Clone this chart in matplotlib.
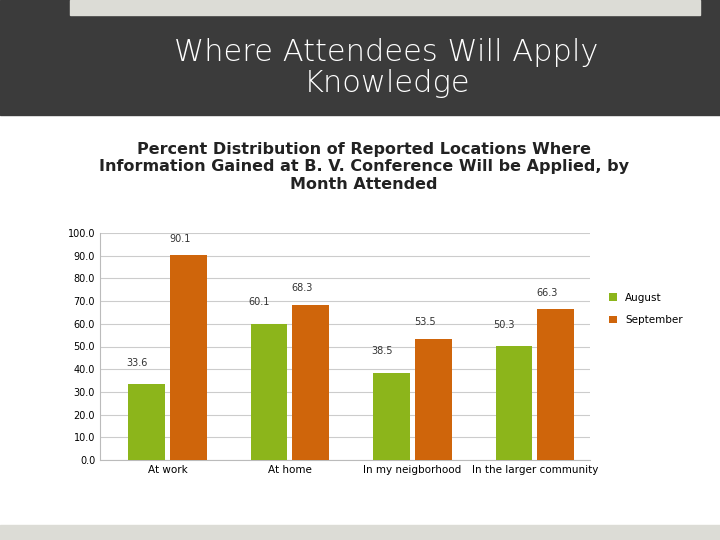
import matplotlib
matplotlib.use("Agg")
import matplotlib.pyplot as plt
from matplotlib.patches import Rectangle
import numpy as np

categories = ["At work", "At home", "In my neigborhood", "In the larger community"]
august = [33.6, 60.1, 38.5, 50.3]
september = [90.1, 68.3, 53.5, 66.3]
yticks = [0, 10, 20, 30, 40, 50, 60, 70, 80, 90, 100]

fig = plt.figure(figsize=(7.2, 5.4), dpi=100)
fig.patches.append(Rectangle((0, 1-115/540), 1, 115/540, transform=fig.transFigure, color="#3b3b3b", zorder=0))
fig.patches.append(Rectangle((70/720, 1-15/540), 630/720, 15/540, transform=fig.transFigure, color="#dcdcd6", zorder=1))
fig.patches.append(Rectangle((0, 0), 1, 15/540, transform=fig.transFigure, color="#dcdcd6", zorder=0))
fig.text(0.537, 1-68/540, "Where Attendees Will Apply\nKnowledge", color="white", fontsize=22,
         ha="center", va="center", linespacing=1.1, fontweight="light")
fig.text(0.505, 1-167/540, "Percent Distribution of Reported Locations Where\nInformation Gained at B. V. Conference Will be Applied, by\nMonth Attended",
         ha="center", va="center", fontsize=11.5, fontweight="bold", color="#222222", linespacing=1.2)

ax = fig.add_axes([100/720, 1-460/540, 490/720, 227/540])
x = np.arange(len(categories))
w = 0.3
ax.bar(x - w/2 - 0.02, august, w, color="#8cb51b", label="August", zorder=3)
ax.bar(x + w/2 + 0.02, september, w, color="#cf650b", label="September", zorder=3)
for i in range(len(x)):
    ax.text(x[i] - w/2 - 0.1, august[i] + 8, f"{august[i]:.1f}", fontsize=7, ha="center", color="#333")
    ax.text(x[i] + w/2 - 0.05, september[i] + 6, f"{september[i]:.1f}", fontsize=7, ha="center", color="#333")
ax.set_ylim(0, 100)
ax.set_xlim(-0.55, 3.45)
ax.set_yticks(yticks)
ax.set_yticklabels([f"{v:.1f}" for v in yticks], fontsize=7)
ax.set_xticks(x)
ax.set_xticklabels(categories, fontsize=7.5)
ax.yaxis.grid(True, color="#cccccc", lw=0.8, zorder=0)
for s in ["top", "right"]:
    ax.spines[s].set_visible(False)
for s in ["left", "bottom"]:
    ax.spines[s].set_color("#bbbbbb")
ax.tick_params(length=0)
fig.legend(loc="center left", bbox_to_anchor=(600/720, 1-309/540), frameon=False, fontsize=7.5,
           handlelength=0.7, handleheight=0.7, labelspacing=1.2)
fig.savefig("out.png", dpi=100)
